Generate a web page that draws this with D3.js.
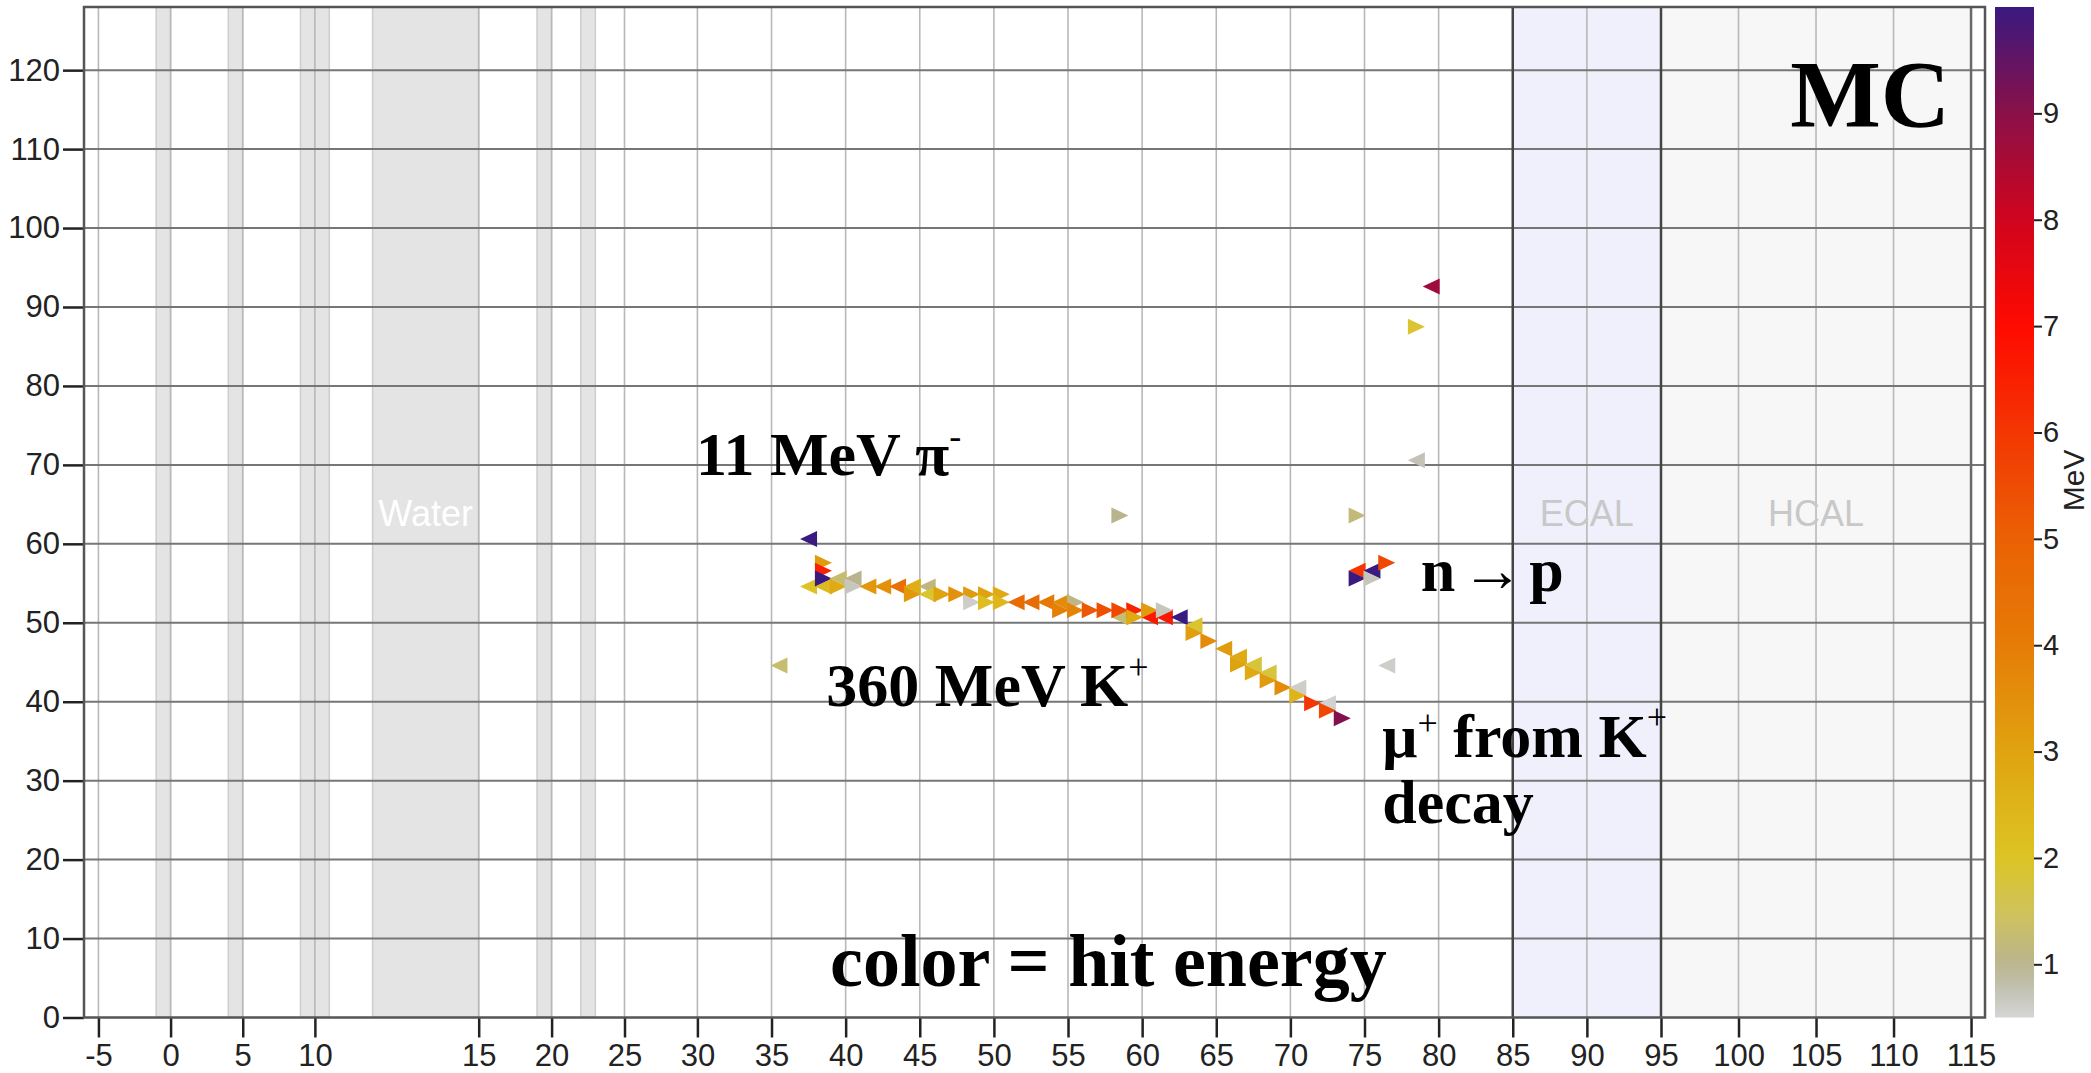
<!DOCTYPE html>
<html>
<head>
<meta charset="utf-8">
<script src="https://cdn.jsdelivr.net/npm/d3@7"></script>
<style>
  html, body { margin: 0; padding: 0; background: #ffffff; }
  svg { display: block; }
</style>
</head>
<body>
<svg id="chart" width="2091" height="1073"></svg>
<script>
// ---------------- data ----------------
const xTickValues = [-5, 0, 5, 10, 15, 20, 25, 30, 35, 40, 45, 50, 55, 60, 65, 70, 75, 80, 85, 90, 95, 100, 105, 110, 115];
const yTickValues = [0, 10, 20, 30, 40, 50, 60, 70, 80, 90, 100, 110, 120];
const energyTickValues = [1, 2, 3, 4, 5, 6, 7, 8, 9];

// thin passive layers [from, to] along x
const scintLayers = [[-1, 0], [4, 5], [9, 11], [19, 20], [22, 23]];
const waterLayer = [14, 15];
const ecalRange = [85, 95];
const hcalRange = [95, 115];

// hits: [x, y, energy in MeV]; left- and right-pointing markers
const hitsLeft = [
  [35.5, 44.6, 1.3],
  [37.5, 60.6, 10],
  [37.5, 54.6, 2.0],
  [38.5, 54.6, 2.3],
  [39.5, 55.6, 1.3],
  [40.5, 55.6, 1.0],
  [41.5, 54.6, 3.3],
  [42.5, 54.6, 3.5],
  [43.5, 54.6, 4.5],
  [44.5, 54.6, 2.7],
  [45.5, 54.6, 1.1],
  [45.5, 53.6, 1.9],
  [51.5, 52.6, 4.6],
  [52.5, 52.6, 4.6],
  [53.5, 52.6, 4.1],
  [54.5, 52.6, 3.6],
  [58.5, 50.7, 1.3],
  [60.5, 50.7, 6.7],
  [61.5, 50.7, 6.7],
  [62.5, 50.7, 10],
  [63.5, 49.7, 1.9],
  [65.5, 46.7, 3.2],
  [66.5, 45.7, 2.8],
  [67.5, 44.7, 1.8],
  [68.5, 43.7, 1.8],
  [70.5, 41.8, 0.6],
  [72.5, 39.8, 0.55],
  [74.5, 56.6, 6.0],
  [75.5, 56.6, 10],
  [76.5, 44.6, 0.6],
  [78.5, 70.6, 0.75],
  [79.5, 92.6, 8.7]
];
const hitsRight = [
  [38.5, 57.6, 3.2],
  [38.5, 56.6, 6.5],
  [38.5, 55.6, 10],
  [39.5, 54.6, 2.8],
  [40.5, 54.6, 0.7],
  [44.5, 53.6, 3.3],
  [46.5, 53.6, 3.0],
  [47.5, 53.6, 3.5],
  [48.5, 53.6, 3.2],
  [48.5, 52.6, 0.6],
  [49.5, 53.6, 3.0],
  [49.5, 52.6, 2.2],
  [50.5, 53.6, 2.8],
  [50.5, 52.6, 2.4],
  [54.5, 51.6, 3.9],
  [55.5, 52.6, 1.1],
  [55.5, 51.6, 3.8],
  [56.5, 51.6, 5.2],
  [57.5, 51.6, 5.4],
  [58.5, 51.6, 5.6],
  [58.5, 63.6, 1.0],
  [59.5, 51.6, 6.4],
  [59.5, 50.7, 2.8],
  [60.5, 51.6, 3.2],
  [61.5, 51.6, 0.7],
  [63.5, 48.7, 3.1],
  [64.5, 47.7, 3.6],
  [66.5, 44.7, 3.0],
  [67.5, 43.7, 2.8],
  [68.5, 42.7, 3.2],
  [69.5, 41.8, 3.6],
  [70.5, 40.8, 2.5],
  [71.5, 39.8, 6.0],
  [72.5, 38.9, 5.6],
  [73.5, 37.9, 9.1],
  [74.5, 63.6, 1.2],
  [74.5, 55.6, 10],
  [75.5, 55.6, 0.7],
  [76.5, 57.6, 5.6],
  [78.5, 87.5, 1.9]
];

// energy colour map
const energyStops  = [0.5, 0.75, 1.0, 1.5, 2.0, 3.0, 4.0, 5.0, 6.0, 7.0, 8.0, 9.0, 10.0];
const energyColors = ["#d5d5d5", "#c4c2b6", "#b9b48e", "#d0c35a", "#dcc424", "#e0a310",
                      "#e67c06", "#ea6204", "#f43602", "#ff0a00", "#d0041e", "#8a1048", "#3a1a80"];

// ---------------- layout ----------------
const W = 2091, H = 1073;
const plot = { left: 84, top: 7, right: 1985, bottom: 1017.5 };
// piecewise x axis: the water target is drawn stretched
const xBreaks = [-6, 14, 15, 30, 95, 115.9];
const xPixels = [plot.left, 372.6, 478.7, 697.4, 1661, plot.right];
const cbar = { left: 1995, right: 2034 };

const x = d3.scaleLinear().domain(xBreaks).range(xPixels);
const y = d3.scaleLinear().domain([0, 128]).range([plot.bottom, plot.top]);
const color = d3.scaleLinear().domain(energyStops).range(energyColors).interpolate(d3.interpolateRgb).clamp(true);
const yE = d3.scaleLinear().domain([0.5, 10]).range([plot.bottom, plot.top]);

const svg = d3.select("#chart");
svg.append("rect").attr("width", W).attr("height", H).attr("fill", "#ffffff");

const defs = svg.append("defs");
defs.append("clipPath").attr("id", "plotClip")
  .append("rect").attr("x", plot.left).attr("y", plot.top)
  .attr("width", plot.right - plot.left).attr("height", plot.bottom - plot.top);

const g = svg.append("g").attr("clip-path", "url(#plotClip)");

// calorimeter regions
g.append("rect").attr("x", x(ecalRange[0])).attr("y", plot.top)
  .attr("width", x(ecalRange[1]) - x(ecalRange[0])).attr("height", plot.bottom - plot.top)
  .attr("fill", "#f0f0fc");
g.append("rect").attr("x", x(hcalRange[0])).attr("y", plot.top)
  .attr("width", x(hcalRange[1]) - x(hcalRange[0])).attr("height", plot.bottom - plot.top)
  .attr("fill", "#f7f7f7");

// passive layers and water
g.selectAll("rect.layer").data(scintLayers.concat([waterLayer])).join("rect")
  .attr("class", "layer")
  .attr("x", d => x(d[0])).attr("y", plot.top)
  .attr("width", d => x(d[1]) - x(d[0])).attr("height", plot.bottom - plot.top)
  .attr("fill", "#e4e4e4").attr("stroke", "#cdcdcd").attr("stroke-width", 1.5);

// grid
g.selectAll("line.vgrid").data(xTickValues.filter(v => v !== 85 && v !== 95 && v !== 115)).join("line")
  .attr("class", "vgrid")
  .attr("x1", d => x(d)).attr("x2", d => x(d))
  .attr("y1", plot.top).attr("y2", plot.bottom)
  .attr("stroke", "#b8b8b8").attr("stroke-width", 1.6);
g.selectAll("line.hgrid").data(yTickValues.filter(v => v > 0)).join("line")
  .attr("class", "hgrid")
  .attr("x1", plot.left).attr("x2", plot.right)
  .attr("y1", d => y(d)).attr("y2", d => y(d))
  .attr("stroke", "#767676").attr("stroke-width", 2);
g.selectAll("line.border").data([ecalRange[0], ecalRange[1], hcalRange[1]]).join("line")
  .attr("class", "border")
  .attr("x1", d => x(d)).attr("x2", d => x(d))
  .attr("y1", plot.top).attr("y2", plot.bottom)
  .attr("stroke", d => d === hcalRange[1] ? "#6a6a6a" : "#444444").attr("stroke-width", 2.5);

// region names
const regionLabels = [
  { text: "Water", at: (waterLayer[0] + waterLayer[1]) / 2, fill: "#ffffff" },
  { text: "ECAL",  at: (ecalRange[0] + ecalRange[1]) / 2,  fill: "#c8c8c8" },
  { text: "HCAL",  at: (hcalRange[0] + hcalRange[1]) / 2,  fill: "#c8c8c8" }
];
g.selectAll("text.region").data(regionLabels).join("text")
  .attr("class", "region")
  .attr("x", d => x(d.at)).attr("y", y(62.2))
  .attr("text-anchor", "middle")
  .attr("font-family", "'Liberation Sans', Arial, sans-serif")
  .attr("font-size", 36)
  .attr("fill", d => d.fill)
  .text(d => d.text);

// hit markers
const triW = 17, triH = 16;
function triangle(d, dir) {
  const cx = x(d[0]), cy = y(d[1]);
  const back = cx - dir * triW / 2, tip = cx + dir * triW / 2;
  return `M${back},${cy - triH / 2}L${tip},${cy}L${back},${cy + triH / 2}Z`;
}
const hits = hitsLeft.map(d => ({ d, dir: -1 })).concat(hitsRight.map(d => ({ d, dir: 1 })))
  .sort((a, b) => a.d[0] - b.d[0]);
g.selectAll("path.hit").data(hits).join("path")
  .attr("class", "hit")
  .attr("d", h => triangle(h.d, h.dir))
  .attr("fill", h => color(h.d[2]));

// annotations
const serif = "'Liberation Serif', 'Times New Roman', serif";
function annotate(px, py, size, parts) {
  const t = svg.append("text")
    .attr("x", x(px)).attr("y", y(py))
    .attr("font-family", serif).attr("font-weight", "bold")
    .attr("font-size", size).attr("fill", "#000000");
  let raised = 0;
  parts.forEach(p => {
    const s = t.append("tspan").text(p.t);
    if (p.sup) {
      s.attr("font-size", 36).attr("font-weight", "normal").attr("dy", -p.sup);
      raised = p.sup;
    } else if (raised) {
      s.attr("dy", raised);
      raised = 0;
    }
    if (p.thin) s.attr("font-weight", "normal");
    if (p.dx) s.attr("dx", p.dx);
  });
  return t;
}
annotate(29.9, 68.7, 62, [{ t: "11 MeV \u03c0" }, { t: "-", sup: 27 }]);
annotate(38.7, 39.4, 62, [{ t: "360 MeV K" }, { t: "+", sup: 27 }]);
annotate(78.8, 54.0, 62, [{ t: "n" }, { t: "\u2192", thin: true, dx: 6 }, { t: "p", dx: 6 }]);
annotate(76.2, 33.0, 62, [{ t: "\u03bc" }, { t: "+", sup: 22 }, { t: " from K" }, { t: "+", sup: 28 }]);
annotate(76.2, 24.6, 62, [{ t: "decay" }]);
annotate(38.95, 4.0, 74, [{ t: "color = hit energy" }]);
svg.append("text")
  .attr("x", x(113.65)).attr("y", y(112.8))
  .attr("text-anchor", "end")
  .attr("font-family", serif).attr("font-weight", "bold")
  .attr("font-size", 96).attr("fill", "#000000")
  .text("MC");

// axes
const xAxis = svg.append("g").attr("transform", `translate(0,${plot.bottom})`)
  .call(d3.axisBottom(x).tickValues(xTickValues).tickFormat(d => String(d)).tickSize(20).tickPadding(6));
const yAxis = svg.append("g").attr("transform", `translate(${plot.left},0)`)
  .call(d3.axisLeft(y).tickValues(yTickValues).tickFormat(d => String(d)).tickSize(21).tickPadding(3));
[xAxis, yAxis].forEach(a => {
  a.select(".domain").remove();
  a.selectAll(".tick line").attr("stroke", "#222222").attr("stroke-width", 2.5);
  a.selectAll(".tick text").attr("font-family", "'Liberation Sans', Arial, sans-serif")
    .attr("font-size", 31).attr("fill", "#222222");
});

// frame
svg.append("rect")
  .attr("x", plot.left).attr("y", plot.top)
  .attr("width", plot.right - plot.left).attr("height", plot.bottom - plot.top)
  .attr("fill", "none").attr("stroke", "#555555").attr("stroke-width", 2.5);

// colour bar
const grad = defs.append("linearGradient").attr("id", "energyGrad")
  .attr("x1", 0).attr("y1", 1).attr("x2", 0).attr("y2", 0);
d3.range(0, 1.0001, 0.02).forEach(f => {
  const v = 0.5 + f * 9.5;
  grad.append("stop").attr("offset", f).attr("stop-color", color(v));
});
svg.append("rect")
  .attr("x", cbar.left).attr("y", plot.top)
  .attr("width", cbar.right - cbar.left).attr("height", plot.bottom - plot.top)
  .attr("fill", "url(#energyGrad)");
const cAxis = svg.append("g").attr("transform", `translate(${cbar.right},0)`)
  .call(d3.axisRight(yE).tickValues(energyTickValues).tickFormat(d => String(d)).tickSize(8).tickPadding(1));
cAxis.select(".domain").remove();
cAxis.selectAll(".tick line").attr("stroke", "#222222").attr("stroke-width", 2);
cAxis.selectAll(".tick text").attr("font-family", "'Liberation Sans', Arial, sans-serif")
  .attr("font-size", 29).attr("fill", "#222222");
svg.append("text")
  .attr("transform", `translate(2084,${yE(5.55)}) rotate(-90)`)
  .attr("text-anchor", "middle")
  .attr("font-family", "'Liberation Sans', Arial, sans-serif")
  .attr("font-size", 30).attr("fill", "#222222")
  .text("MeV");
</script>
</body>
</html>
